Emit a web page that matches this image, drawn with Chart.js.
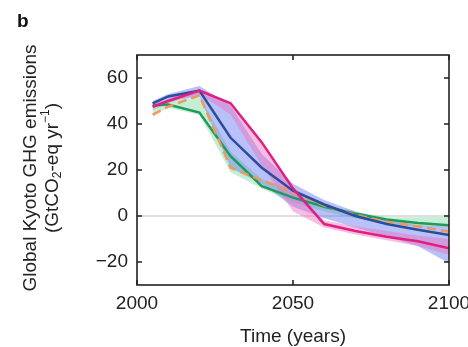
<!DOCTYPE html>
<html><head><meta charset="utf-8">
<script src="https://cdn.jsdelivr.net/npm/chart.js@4.4.0/dist/chart.umd.min.js"></script>
<style>html,body{margin:0;padding:0;background:#fff}#wrap{width:468px;height:347px}</style>
</head><body><div id="wrap"><canvas id="c" width="468" height="347"></canvas></div>
<script>
const years = [2005, 2010, 2020, 2030, 2040, 2050, 2060, 2070, 2080, 2090, 2100];
const magentaLine = [47.5, 50, 54.5, 49, 32, 12, -3.5, -6.5, -9, -11, -14];
const blueLine    = [49, 52, 54.5, 34, 21, 11, 5, 0, -3.5, -6, -8.3];
const orangeLine  = [44, 47.5, 52.5, 21, 15.5, 10.5, 4.5, 0.5, -2.5, -4.5, -6.8];
const greenLine   = [48, 48.5, 45, 26, 13, 8, 4, 1, -1.5, -3, -4];
const pinkUpper   = [48.5, 51, 55, 49, 32, 12, -2, -4.5, -6.5, -8.5, -10];
const pinkLower   = [46, 49, 53, 44, 22, 2, -5, -8, -10.5, -13, -17];
const blueUpper   = [50, 53, 56.5, 48, 27, 14, 7, 2, -1.5, -4, -4.6];
const blueLower   = [47, 50, 52, 21, 14, 4, -1, -5, -9, -13, -20.5];
const greenUpper  = [48, 50, 52, 28, 16, 11, 5, 2, -0.5, -0.5, -0.3];
const greenLower  = [44, 47, 44, 19, 12, 6, 2, -1, -3.5, -4.5, -4.8];
const xTicks = [2000, 2050, 2100];
const yTicks = [-20, 0, 20, 40, 60];

const pts = arr => arr.map((v, i) => ({x: years[i], y: v}));
const line = (data, color, dash) => ({data: pts(data), borderColor: color, borderWidth: 2.5, borderDash: dash || [], fill: false, pointRadius: 0, tension: 0});
const bandTop = (data, color) => ({data: pts(data), borderColor: 'rgba(0,0,0,0)', borderWidth: 0, backgroundColor: color, fill: '+1', pointRadius: 0, tension: 0});
const bandBot = (data) => ({data: pts(data), borderColor: 'rgba(0,0,0,0)', borderWidth: 0, fill: false, pointRadius: 0, tension: 0});

const FONT = '"Liberation Sans", Arial, sans-serif';

const deco = {
  id: 'deco',
  beforeDatasetsDraw(chart) {
    const {ctx, chartArea: a, scales: {y}} = chart;
    const y0 = y.getPixelForValue(0);
    ctx.save();
    ctx.strokeStyle = '#d4d4d4';
    ctx.lineWidth = 1.5;
    ctx.beginPath(); ctx.moveTo(a.left, y0); ctx.lineTo(a.right, y0); ctx.stroke();
    ctx.restore();
  },
  afterDraw(chart) {
    const {ctx, chartArea: a, scales: {x, y}} = chart;
    ctx.save();
    ctx.strokeStyle = '#222';
    ctx.lineWidth = 1.6;
    ctx.strokeRect(a.left, a.top, a.right - a.left, a.bottom - a.top);
    const tl = 5;
    ctx.beginPath();
    yTicks.forEach(v => {
      const p = y.getPixelForValue(v);
      ctx.moveTo(a.left, p); ctx.lineTo(a.left + tl, p);
      ctx.moveTo(a.right, p); ctx.lineTo(a.right - tl, p);
    });
    xTicks.forEach(v => {
      const p = x.getPixelForValue(v);
      ctx.moveTo(p, a.bottom); ctx.lineTo(p, a.bottom - tl);
      ctx.moveTo(p, a.top); ctx.lineTo(p, a.top + tl);
    });
    ctx.stroke();
    ctx.fillStyle = '#111';
    ctx.font = 'bold 19px ' + FONT;
    ctx.textAlign = 'left'; ctx.textBaseline = 'alphabetic';
    ctx.fillText('b', 17, 27);
    ctx.fillStyle = '#222';
    ctx.font = '19px ' + FONT;
    ctx.textAlign = 'center'; ctx.textBaseline = 'middle';
    ctx.fillText('Time (years)', (a.left + a.right) / 2, 337);
    ctx.save();
    ctx.translate(31, 168);
    ctx.rotate(-Math.PI / 2);
    ctx.textAlign = 'center'; ctx.textBaseline = 'middle';
    ctx.font = '19px ' + FONT;
    ctx.fillText('Global Kyoto GHG emissions', 0, 0);
    ctx.restore();
    ctx.save();
    ctx.translate(53, 168);
    ctx.rotate(-Math.PI / 2);
    ctx.textBaseline = 'middle';
    const big = '19px ' + FONT, small = '12px ' + FONT;
    const parts = [['(GtCO', big, 0], ['2', small, 5], ['-eq yr', big, 0], ['\u22121', small, -7], [')', big, 0]];
    let total = 0;
    parts.forEach(p => { ctx.font = p[1]; total += ctx.measureText(p[0]).width; });
    let cx = -total / 2;
    ctx.textAlign = 'left';
    parts.forEach(p => { ctx.font = p[1]; ctx.fillText(p[0], cx, p[2]); cx += ctx.measureText(p[0]).width; });
    ctx.restore();
    ctx.restore();
  }
};

new Chart(document.getElementById('c'), {
  type: 'line',
  data: {
    datasets: [
      line(magentaLine, '#e01f82'),
      line(blueLine, '#2b4c9c'),
      line(orangeLine, '#eb9a5a', [9, 5]),
      line(greenLine, '#1f9a5c'),
      bandTop(pinkUpper, 'rgba(238,110,190,0.45)'), bandBot(pinkLower),
      bandTop(blueUpper, 'rgba(100,120,240,0.45)'), bandBot(blueLower),
      bandTop(greenUpper, 'rgba(110,215,150,0.40)'), bandBot(greenLower)
    ]
  },
  options: {
    responsive: false,
    animation: false,
    events: [],
    layout: {padding: {top: 55, right: 19, left: 0, bottom: 0}},
    plugins: {legend: {display: false}, tooltip: {enabled: false}, filler: {propagate: false}},
    scales: {
      x: {
        type: 'linear', min: 2000, max: 2100,
        afterBuildTicks: s => { s.ticks = xTicks.map(v => ({value: v})); },
        afterFit: s => { s.height = 62; s.paddingLeft = 0; s.paddingRight = 0; },
        grid: {display: false, drawTicks: false}, border: {display: false},
        ticks: {font: {size: 19, family: FONT}, color: '#222', padding: 7, maxRotation: 0, callback: v => String(v)}
      },
      y: {
        type: 'linear', min: -30, max: 70,
        afterBuildTicks: s => { s.ticks = yTicks.map(v => ({value: v})); },
        afterFit: s => { s.width = 137; s.paddingTop = 0; s.paddingBottom = 0; },
        grid: {display: false, drawTicks: false}, border: {display: false},
        ticks: {font: {size: 19, family: FONT}, color: '#222', padding: 9, callback: v => v < 0 ? '\u2212' + Math.abs(v) : String(v)}
      }
    }
  },
  plugins: [deco]
});
</script></body></html>
